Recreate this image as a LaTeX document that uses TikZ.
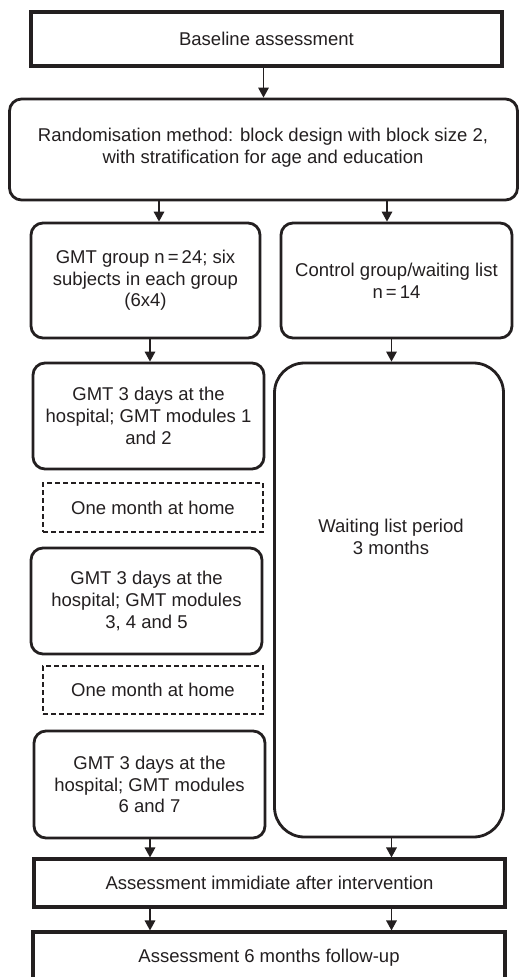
\documentclass[tikz,border=0pt]{standalone}
\usepackage{fontspec}
\setmainfont{Liberation Sans}
\usetikzlibrary{arrows.meta}
\definecolor{ink}{HTML}{231F20}
\begin{document}
\begin{tikzpicture}[x=1pt,y=-1pt,
  every node/.style={text=ink, font=\fontsize{18.5}{21.7}\selectfont, align=center, inner sep=0pt},
  sharpbox/.style={draw=ink, line width=3.1pt},
  roundbox/.style={draw=ink, line width=2.8pt, rounded corners=12pt},
  homebox/.style={draw=ink, line width=1.3pt, dash pattern=on 5pt off 3pt},
  arr/.style={draw=ink, line width=1.6pt, -{Triangle[length=10pt,width=10.5pt]}}
]
\useasboundingbox (0,0) rectangle (519,977);
\fill[white] (0,0) rectangle (519,977);

\node[sharpbox, minimum width=471, minimum height=54] (base) at (266.5,39) {Baseline assessment};
\node[roundbox, minimum width=508, minimum height=101] (rand) at (263.5,149.5) {};
\node (randtext) at (263,147.5) {Randomisation method: block design with block size 2,\\with stratification for age and education};

\node[roundbox, minimum width=229, minimum height=115] (gmt0) at (145.5,280.5) {GMT group n\,=\,24; six\\subjects in each group\\(6x4)};
\node[roundbox, minimum width=231, minimum height=115] (ctrl) at (396.5,280.5) {Control group/waiting list\\n\,=\,14};

\node[roundbox, minimum width=231, minimum height=106] (gmt1) at (148.5,416) {GMT 3 days at the\\hospital; GMT modules 1\\and 2};
\node[homebox, minimum width=220, minimum height=49] (home1) at (153,507.5) {One month at home};
\node[roundbox, minimum width=231, minimum height=106] (gmt2) at (146.5,601) {GMT 3 days at the\\hospital; GMT modules\\3, 4 and 5};
\node[homebox, minimum width=220, minimum height=48] (home2) at (153,690) {One month at home};
\node[roundbox, minimum width=231, minimum height=107] (gmt3) at (149.5,784.5) {GMT 3 days at the\\hospital; GMT modules\\6 and 7};

\node[roundbox, rounded corners=30pt, minimum width=229, minimum height=474] (wait) at (389,600) {};
\node (waittext) at (391,537) {Waiting list period\\3 months};

\node[sharpbox, minimum width=471, minimum height=48] (post) at (269.5,883) {Assessment immidiate after intervention};
\node[sharpbox, minimum width=472, minimum height=52] (fu) at (269,958) {Assessment 6 months follow-up};

\coordinate (cL1) at (159,0);
\coordinate (cR1) at (387,0);
\coordinate (cL) at (150,0);
\coordinate (cR) at (391.5,0);

\draw[arr] (base.south -| rand.north) -- (rand.north);
\draw[arr] (rand.south -| cL1) -- (gmt0.north -| cL1);
\draw[arr] (rand.south -| cR1) -- (ctrl.north -| cR1);
\draw[arr] (gmt0.south -| cL) -- (gmt1.north -| cL);
\draw[arr] (ctrl.south -| cR) -- (wait.north -| cR);
\draw[arr] (gmt3.south -| cL) -- (post.north -| cL);
\draw[arr] (wait.south -| cR) -- (post.north -| cR);
\draw[arr] (post.south -| cL) -- (fu.north -| cL);
\draw[arr] (post.south -| cR) -- (fu.north -| cR);
\end{tikzpicture}
\end{document}
